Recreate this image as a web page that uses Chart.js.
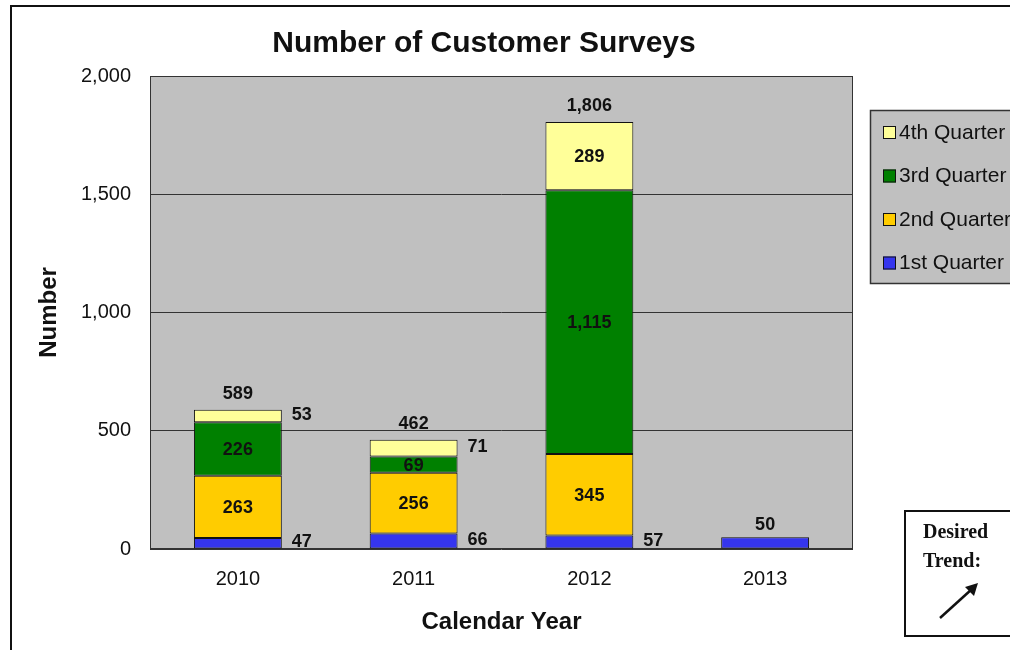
<!DOCTYPE html>
<html>
<head>
<meta charset="utf-8">
<title>Number of Customer Surveys</title>
<script src="https://cdn.jsdelivr.net/npm/chart.js@4"></script>
<style>
  html, body { margin: 0; padding: 0; background: #fff; }
  #surveyChart { display: block; }
</style>
</head>
<body>
<canvas id="surveyChart" width="1010" height="650"></canvas>
<script>
// data
const years = ['2010', '2011', '2012', '2013']
const q1 = [47, 66, 57, 50]
const q2 = [263, 256, 345, null]
const q3 = [226, 69, 1115, null]
const q4 = [53, 71, 289, null]
const totals = [589, 462, 1806, null]
const yTicks = [0, 500, 1000, 1500, 2000]

const FONT = "'Liberation Sans', Arial, sans-serif"
const SERIF = "'Liberation Serif', 'Times New Roman', serif"

const fmt = (n) => n.toLocaleString('en-US')

// white page, outer frame, plot background
const backdrop = {
  id: 'backdrop',
  beforeDraw (chart) {
    const { ctx, chartArea: a } = chart
    ctx.save()
    ctx.fillStyle = '#fff'
    ctx.fillRect(0, 0, chart.width, chart.height)
    ctx.fillStyle = '#C0C0C0'
    ctx.fillRect(a.left, a.top, a.right - a.left, a.bottom - a.top)
    ctx.strokeStyle = '#111'
    ctx.lineWidth = 2
    ctx.beginPath()
    ctx.moveTo(11, chart.height)
    ctx.lineTo(11, 6)
    ctx.lineTo(chart.width, 6)
    ctx.stroke()
    // chart title
    ctx.fillStyle = '#111'
    ctx.font = `bold 30px ${FONT}`
    ctx.textAlign = 'center'
    ctx.textBaseline = 'middle'
    ctx.fillText('Number of Customer Surveys', 484, 44)
    ctx.restore()
  },
  beforeDatasetsDraw (chart) {
    const { ctx, chartArea: a } = chart
    ctx.save()
    ctx.strokeStyle = '#333'
    ctx.lineWidth = 1
    ctx.strokeRect(a.left + 0.5, a.top + 0.5, a.right - a.left - 1, a.bottom - a.top - 1)
    ctx.restore()
  }
}

// value labels: inside, to the right, or above the bar
const valueLabels = {
  id: 'valueLabels',
  afterDatasetsDraw (chart) {
    const { ctx } = chart
    ctx.save()
    ctx.font = `bold 18px ${FONT}`
    ctx.fillStyle = '#111'
    ctx.textBaseline = 'middle'
    chart.data.datasets.forEach((ds, i) => {
      const meta = chart.getDatasetMeta(i)
      meta.data.forEach((bar, j) => {
        const v = ds.data[j]
        if (v == null) return
        const h = bar.base - bar.y
        const mid = (bar.y + bar.base) / 2
        if (totals[j] == null) {
          ctx.textAlign = 'center'
          ctx.fillText(fmt(v), bar.x, bar.y - 12)
        } else if (ds.labelInside || h > 30) {
          ctx.textAlign = 'center'
          ctx.fillText(fmt(v), bar.x, mid + 1)
        } else {
          ctx.textAlign = 'left'
          ctx.fillText(fmt(v), bar.x + bar.width / 2 + 10, mid - 1)
        }
      })
    })
    // stack totals
    const y = chart.scales.y
    const x = chart.scales.x
    ctx.textAlign = 'center'
    totals.forEach((t, j) => {
      if (t == null) return
      ctx.fillText(fmt(t), x.getPixelForValue(j), y.getPixelForValue(t) - 16)
    })
    ctx.restore()
  }
}

// legend box on the right and the "Desired Trend" note
const sideNotes = {
  id: 'sideNotes',
  afterDraw (chart) {
    const { ctx } = chart
    ctx.save()
    ctx.fillStyle = '#C0C0C0'
    ctx.fillRect(870, 110, 150, 174)
    ctx.strokeStyle = '#333'
    ctx.lineWidth = 1.5
    ctx.strokeRect(870.5, 110.5, 150, 173)
    const items = chart.data.datasets.slice().reverse()
    ctx.font = `21px ${FONT}`
    ctx.textAlign = 'left'
    ctx.textBaseline = 'middle'
    items.forEach((ds, i) => {
      const cy = 132 + i * 43.5
      ctx.fillStyle = ds.backgroundColor
      ctx.fillRect(883, cy - 6, 13, 13)
      ctx.strokeStyle = '#111'
      ctx.lineWidth = 1
      ctx.strokeRect(883.5, cy - 5.5, 12, 12)
      ctx.fillStyle = '#111'
      ctx.fillText(ds.label, 899, cy + 1)
    })

    // desired trend box
    ctx.fillStyle = '#fff'
    ctx.fillRect(905, 511, 120, 125)
    ctx.strokeStyle = '#111'
    ctx.lineWidth = 2
    ctx.strokeRect(905, 511, 120, 125)
    ctx.fillStyle = '#111'
    ctx.font = `bold 20px ${SERIF}`
    ctx.fillText('Desired', 923, 533)
    ctx.fillText('Trend:', 923, 562)
    ctx.lineWidth = 2.5
    ctx.beginPath()
    ctx.moveTo(940, 618)
    ctx.lineTo(972, 589)
    ctx.stroke()
    ctx.beginPath()
    ctx.moveTo(978, 583)
    ctx.lineTo(965, 587)
    ctx.lineTo(974, 596)
    ctx.closePath()
    ctx.fill()
    ctx.restore()
  }
}

const makeSet = (label, data, color, labelInside) => ({
  label,
  data,
  backgroundColor: color,
  borderColor: '#111',
  borderWidth: 1,
  borderSkipped: false,
  labelInside
})

const chart = new Chart(document.getElementById('surveyChart'), {
  type: 'bar',
  data: {
    labels: years,
    datasets: [
      makeSet('1st Quarter', q1, '#3535EE', false),
      makeSet('2nd Quarter', q2, '#FFCC00', true),
      makeSet('3rd Quarter', q3, '#008000', true),
      makeSet('4th Quarter', q4, '#FFFF99', false)
    ]
  },
  options: {
    responsive: false,
    animation: false,
    devicePixelRatio: 1,
    barPercentage: 0.5,
    categoryPercentage: 1,
    layout: { padding: { top: 76, right: 157, bottom: 0, left: 0 } },
    plugins: {
      legend: { display: false },
      title: { display: false },
      tooltip: { enabled: false }
    },
    scales: {
      x: {
        stacked: true,
        grid: { display: false },
        border: { display: false },
        ticks: { color: '#111', font: { family: FONT, size: 20 }, padding: 10 },
        title: {
          display: true,
          text: 'Calendar Year',
          color: '#111',
          font: { family: FONT, size: 24, weight: 'bold' },
          padding: { top: 0, bottom: 13 }
        },
        afterFit (scale) { scale.height = 101 }
      },
      y: {
        stacked: true,
        min: yTicks[0],
        max: yTicks[yTicks.length - 1],
        afterBuildTicks (scale) { scale.ticks = yTicks.map((v) => ({ value: v })) },
        grid: { color: '#333', lineWidth: 1, drawTicks: false },
        border: { display: false },
        ticks: {
          color: '#111',
          font: { family: FONT, size: 20 },
          padding: 19,
          callback: (v) => fmt(v)
        },
        title: {
          display: true,
          text: 'Number',
          color: '#111',
          font: { family: FONT, size: 24, weight: 'bold' },
          padding: { top: 35, bottom: 0 }
        },
        afterFit (scale) { scale.width = 150 }
      }
    }
  },
  plugins: [backdrop, valueLabels, sideNotes]
})
</script>
</body>
</html>
